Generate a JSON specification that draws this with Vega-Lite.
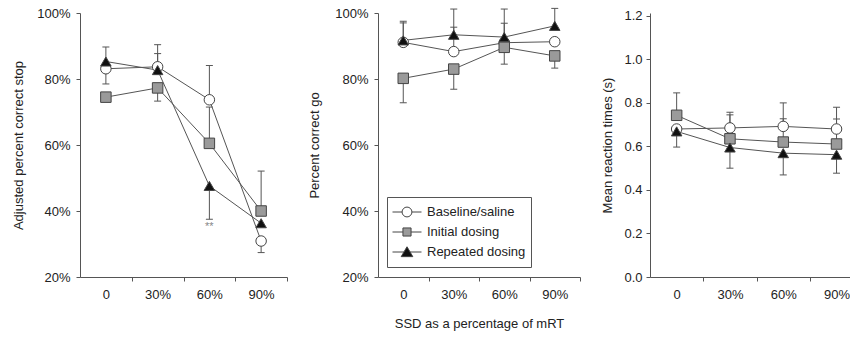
{
  "$schema": "https://vega.github.io/schema/vega-lite/v6.json",
  "padding": {"left": 12, "top": 7, "right": 0, "bottom": 2},
  "background": "white",
  "config": {
    "font": "Liberation Sans",
    "view": {"stroke": null},
    "axis": {"labelFont": "Liberation Sans", "titleFont": "Liberation Sans", "labelFontSize": 13, "titleFontSize": 13, "titleFontWeight": "normal", "labelColor": "#222", "titleColor": "#222", "domainColor": "#555", "tickColor": "#555", "tickSize": 4, "grid": false, "labelFlush": false},
    "legend": {"labelFont": "Liberation Sans"}
  },
  "datasets": {
    "pts": [
      {"panel": "stop", "series": "Baseline/saline", "ssd": 0, "value": 83.1, "err": 78.5},
      {"panel": "stop", "series": "Baseline/saline", "ssd": 30, "value": 83.7, "err": 90.4},
      {"panel": "stop", "series": "Baseline/saline", "ssd": 60, "value": 73.7, "err": 84.1},
      {"panel": "stop", "series": "Baseline/saline", "ssd": 90, "value": 30.9, "err": 27.4},
      {"panel": "stop", "series": "Initial dosing", "ssd": 0, "value": 74.5, "err": null},
      {"panel": "stop", "series": "Initial dosing", "ssd": 30, "value": 77.3, "err": 73.3},
      {"panel": "stop", "series": "Initial dosing", "ssd": 60, "value": 60.5, "err": 71.5},
      {"panel": "stop", "series": "Initial dosing", "ssd": 90, "value": 40.0, "err": 52.1},
      {"panel": "stop", "series": "Repeated dosing", "ssd": 0, "value": 85.3, "err": 89.7},
      {"panel": "stop", "series": "Repeated dosing", "ssd": 30, "value": 82.7, "err": 87.7},
      {"panel": "stop", "series": "Repeated dosing", "ssd": 60, "value": 47.6, "err": 37.5},
      {"panel": "stop", "series": "Repeated dosing", "ssd": 90, "value": 36.3, "err": null},
      {"panel": "go", "series": "Baseline/saline", "ssd": 0, "value": 91.1, "err": 97.0},
      {"panel": "go", "series": "Baseline/saline", "ssd": 30, "value": 88.3, "err": 95.7},
      {"panel": "go", "series": "Baseline/saline", "ssd": 60, "value": 91.0, "err": 96.9},
      {"panel": "go", "series": "Baseline/saline", "ssd": 90, "value": 91.3, "err": null},
      {"panel": "go", "series": "Initial dosing", "ssd": 0, "value": 80.2, "err": 72.8},
      {"panel": "go", "series": "Initial dosing", "ssd": 30, "value": 83.0, "err": 76.9},
      {"panel": "go", "series": "Initial dosing", "ssd": 60, "value": 89.6, "err": 84.5},
      {"panel": "go", "series": "Initial dosing", "ssd": 90, "value": 87.0, "err": 83.3},
      {"panel": "go", "series": "Repeated dosing", "ssd": 0, "value": 91.7, "err": 97.5},
      {"panel": "go", "series": "Repeated dosing", "ssd": 30, "value": 93.4, "err": 101.2},
      {"panel": "go", "series": "Repeated dosing", "ssd": 60, "value": 92.7, "err": 101.2},
      {"panel": "go", "series": "Repeated dosing", "ssd": 90, "value": 96.1, "err": 101.4},
      {"panel": "rt", "series": "Baseline/saline", "ssd": 0, "value": 0.680, "err": null},
      {"panel": "rt", "series": "Baseline/saline", "ssd": 30, "value": 0.685, "err": 0.757},
      {"panel": "rt", "series": "Baseline/saline", "ssd": 60, "value": 0.692, "err": 0.800},
      {"panel": "rt", "series": "Baseline/saline", "ssd": 90, "value": 0.680, "err": 0.780},
      {"panel": "rt", "series": "Initial dosing", "ssd": 0, "value": 0.743, "err": 0.846},
      {"panel": "rt", "series": "Initial dosing", "ssd": 30, "value": 0.635, "err": 0.745},
      {"panel": "rt", "series": "Initial dosing", "ssd": 60, "value": 0.620, "err": 0.727},
      {"panel": "rt", "series": "Initial dosing", "ssd": 90, "value": 0.611, "err": 0.726},
      {"panel": "rt", "series": "Repeated dosing", "ssd": 0, "value": 0.669, "err": 0.597},
      {"panel": "rt", "series": "Repeated dosing", "ssd": 30, "value": 0.595, "err": 0.500},
      {"panel": "rt", "series": "Repeated dosing", "ssd": 60, "value": 0.569, "err": 0.469},
      {"panel": "rt", "series": "Repeated dosing", "ssd": 90, "value": 0.562, "err": 0.477}
    ],
    "ann": [
      {"ssd": 60, "value": 35.2, "label": "**"}
    ]
  },
  "spacing": 20,
  "align": "each",
  "bounds": "full",
  "resolve": {"scale": {"fill": "independent", "shape": "independent", "stroke": "independent"}, "legend": {"fill": "independent", "shape": "independent", "stroke": "independent"}},
  "hconcat": [
    {
      "width": 207,
      "height": 264,
      "data": {"name": "pts"},
      "transform": [{"filter": "datum.panel == 'stop'"}],
      "encoding": {
        "x": {"field": "ssd", "type": "quantitative", "scale": {"domain": [-15, 105], "nice": false, "zero": false}, "axis": {"values": [0, 30, 60, 90], "labelExpr": "datum.value == 0 ? '0' : datum.value + '%'", "tickOffset": 25.875, "labelOffset": -25.875, "labelPadding": 7, "title": null}},
        "y": {"field": "value", "type": "quantitative", "scale": {"domain": [20, 100], "nice": false, "zero": false}, "axis": {"values": [20, 40, 60, 80, 100], "labelExpr": "datum.value + '%'", "labelPadding": 6, "titlePadding": 11, "title": "Adjusted percent correct stop"}}
      },
      "layer": [
        {"mark": {"type": "line", "color": "#555", "strokeWidth": 1}, "encoding": {"detail": {"field": "series"}}},
        {"transform": [{"filter": "isValid(datum.err)"}], "mark": {"type": "rule", "color": "#555", "strokeWidth": 1}, "encoding": {"y2": {"field": "err"}}},
        {"transform": [{"filter": "isValid(datum.err)"}], "mark": {"type": "tick", "orient": "horizontal", "size": 7, "thickness": 1, "color": "#555", "opacity": 1}, "encoding": {"y": {"field": "err", "type": "quantitative", "title": "Adjusted percent correct stop"}}},
        {"mark": {"type": "point", "filled": true, "size": 110, "opacity": 1, "stroke": "#444", "strokeWidth": 1},
         "encoding": {
           "shape": {"field": "series", "type": "nominal", "scale": {"domain": ["Baseline/saline", "Initial dosing", "Repeated dosing"], "range": ["circle", "square", "triangle-up"]}, "legend": null},
           "fill": {"field": "series", "type": "nominal", "scale": {"domain": ["Baseline/saline", "Initial dosing", "Repeated dosing"], "range": ["#ffffff", "#9a9a9a", "#111111"]}, "legend": null}
         }},
        {"data": {"name": "ann"}, "mark": {"type": "text", "fontSize": 11, "color": "#888", "baseline": "middle"}, "encoding": {"text": {"field": "label"}}}
      ]
    },
    {
      "width": 202,
      "height": 264,
      "data": {"name": "pts"},
      "transform": [{"filter": "datum.panel == 'go'"}],
      "encoding": {
        "x": {"field": "ssd", "type": "quantitative", "scale": {"domain": [-15, 105], "nice": false, "zero": false}, "axis": {"values": [0, 30, 60, 90], "labelExpr": "datum.value == 0 ? '0' : datum.value + '%'", "tickOffset": 25.25, "labelOffset": -25.25, "labelPadding": 7, "title": "SSD as a percentage of mRT", "titlePadding": 16}},
        "y": {"field": "value", "type": "quantitative", "scale": {"domain": [20, 100], "nice": false, "zero": false}, "axis": {"values": [20, 40, 60, 80, 100], "labelExpr": "datum.value + '%'", "labelPadding": 6, "titlePadding": 13, "title": "Percent correct go"}}
      },
      "resolve": {"scale": {"shape": "independent", "fill": "independent", "stroke": "independent"}},
      "layer": [
        {"mark": {"type": "line", "color": "#555", "strokeWidth": 1}, "encoding": {"detail": {"field": "series"}}},
        {"transform": [{"filter": "isValid(datum.err)"}], "mark": {"type": "rule", "color": "#555", "strokeWidth": 1}, "encoding": {"y2": {"field": "err"}}},
        {"transform": [{"filter": "isValid(datum.err)"}], "mark": {"type": "tick", "orient": "horizontal", "size": 7, "thickness": 1, "color": "#555", "opacity": 1}, "encoding": {"y": {"field": "err", "type": "quantitative", "title": "Percent correct go"}}},
        {"mark": {"type": "point", "filled": true, "size": 110, "opacity": 1, "stroke": "#444", "strokeWidth": 1},
         "encoding": {
           "shape": {"field": "series", "type": "nominal", "scale": {"domain": ["Baseline/saline", "Initial dosing", "Repeated dosing"], "range": ["circle", "square", "triangle-up"]}, "legend": null},
           "fill": {"field": "series", "type": "nominal", "scale": {"domain": ["Baseline/saline", "Initial dosing", "Repeated dosing"], "range": ["#ffffff", "#9a9a9a", "#111111"]}, "legend": null}
         }},
        {"mark": {"type": "point", "filled": true, "size": 841, "opacity": 0, "strokeWidth": 1},
         "encoding": {
           "shape": {"field": "series", "type": "nominal", "title": null,
             "scale": {"domain": ["Baseline/saline", "Initial dosing", "Repeated dosing"], "range": [
               "M-1,0H-0.34M0.34,0H1M-0.34,0A0.34,0.34,0,1,1,0.34,0A0.34,0.34,0,1,1,-0.34,0Z",
               "M-1,0H-0.28M0.28,0H1M-0.28,-0.28H0.28V0.28H-0.28Z",
               "M-1,0H-0.2M0.2,0H1M0,-0.36L0.4,0.32H-0.4Z"]},
             "legend": {"orient": "none", "legendX": 9, "legendY": 184, "title": null, "padding": 5, "strokeColor": "#555", "fillColor": "#ffffff", "symbolSize": 841, "clipHeight": 20, "rowPadding": 0, "labelFontSize": 13, "labelColor": "#222", "labelOffset": 5, "symbolOpacity": 1, "symbolStrokeColor": "#444", "symbolStrokeWidth": 1}},
           "fill": {"field": "series", "type": "nominal", "title": null,
             "scale": {"domain": ["Baseline/saline", "Initial dosing", "Repeated dosing"], "range": ["#ffffff", "#9a9a9a", "#111111"]},
             "legend": {"orient": "none", "legendX": 9, "legendY": 184, "title": null, "padding": 5, "strokeColor": "#555", "fillColor": "#ffffff", "symbolSize": 841, "clipHeight": 20, "rowPadding": 0, "labelFontSize": 13, "labelColor": "#222", "labelOffset": 5, "symbolOpacity": 1, "symbolStrokeColor": "#444", "symbolStrokeWidth": 1}},
           "stroke": {"field": "series", "type": "nominal", "title": null,
             "scale": {"domain": ["Baseline/saline", "Initial dosing", "Repeated dosing"], "range": ["#444444", "#444444", "#444444"]},
             "legend": {"orient": "none", "legendX": 9, "legendY": 184, "title": null, "padding": 5, "strokeColor": "#555", "fillColor": "#ffffff", "symbolSize": 841, "clipHeight": 20, "rowPadding": 0, "labelFontSize": 13, "labelColor": "#222", "labelOffset": 5, "symbolOpacity": 1, "symbolStrokeColor": "#444", "symbolStrokeWidth": 1}}
         }}
      ]
    },
    {
      "width": 202,
      "height": 264,
      "data": {"name": "pts"},
      "transform": [{"filter": "datum.panel == 'rt'"}],
      "encoding": {
        "y": {"field": "value", "type": "quantitative", "scale": {"domain": [0, 1.213], "nice": false, "zero": false}, "axis": {"values": [0, 0.2, 0.4, 0.6, 0.8, 1.0, 1.2], "format": ".1f", "labelPadding": 4, "titlePadding": 9, "title": "Mean reaction times (s)"}}
      },
      "resolve": {"axis": {"x": "independent"}},
      "layer": [
        {"mark": {"type": "line", "color": "#555", "strokeWidth": 1},
         "encoding": {
           "x": {"field": "ssd", "type": "quantitative", "scale": {"domain": [-15, 98.7], "nice": false, "zero": false}, "axis": {"values": [15, 45, 75], "labels": false, "title": null, "orient": "bottom", "tickSize": 4}},
           "detail": {"field": "series"}
         }},
        {"transform": [{"filter": "isValid(datum.err)"}], "mark": {"type": "rule", "color": "#555", "strokeWidth": 1},
         "encoding": {
           "x": {"field": "ssd", "type": "quantitative", "scale": {"domain": [-15, 98.7], "nice": false, "zero": false}, "axis": {"values": [0, 30, 60, 90], "labelExpr": "datum.value == 0 ? '0' : datum.value + '%'", "ticks": false, "tickSize": 0, "domain": false, "orient": "bottom", "title": null, "labelPadding": 11}},
           "y2": {"field": "err"}
         }},
        {"transform": [{"filter": "isValid(datum.err)"}], "mark": {"type": "tick", "orient": "horizontal", "size": 7, "thickness": 1, "color": "#555", "opacity": 1},
         "encoding": {
           "x": {"field": "ssd", "type": "quantitative", "scale": {"domain": [-15, 98.7], "nice": false, "zero": false}, "axis": null},
           "y": {"field": "err", "type": "quantitative", "title": "Mean reaction times (s)"}
         }},
        {"mark": {"type": "point", "filled": true, "size": 110, "opacity": 1, "stroke": "#444", "strokeWidth": 1},
         "encoding": {
           "x": {"field": "ssd", "type": "quantitative", "scale": {"domain": [-15, 98.7], "nice": false, "zero": false}, "axis": null},
           "shape": {"field": "series", "type": "nominal", "scale": {"domain": ["Baseline/saline", "Initial dosing", "Repeated dosing"], "range": ["circle", "square", "triangle-up"]}, "legend": null},
           "fill": {"field": "series", "type": "nominal", "scale": {"domain": ["Baseline/saline", "Initial dosing", "Repeated dosing"], "range": ["#ffffff", "#9a9a9a", "#111111"]}, "legend": null}
         }}
      ]
    }
  ]
}
